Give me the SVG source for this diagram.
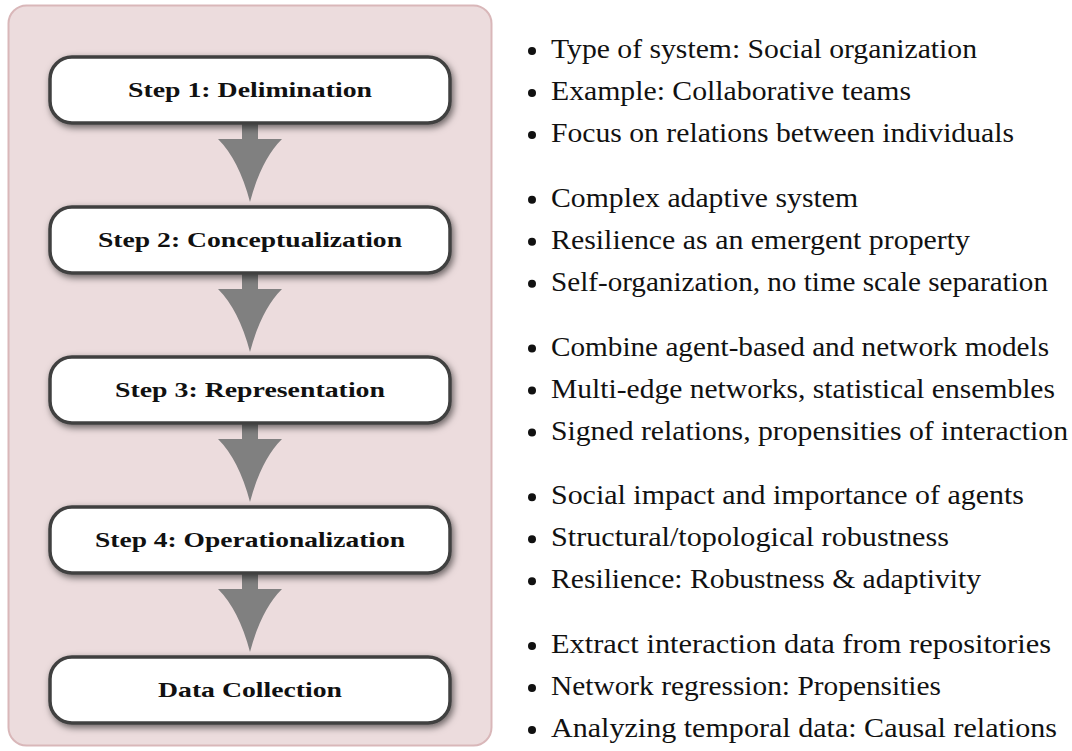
<svg xmlns="http://www.w3.org/2000/svg" width="1072" height="751" viewBox="0 0 1072 751">
<defs>
<filter id="sh" x="-10%" y="-30%" width="125%" height="170%">
<feDropShadow dx="2" dy="3" stdDeviation="3.5" flood-color="#000" flood-opacity="0.55"/>
</filter>
<path id="arr" d="M242,118 H258 V139 H282 Q261,160 250,202 Q239,160 218,139 H242 Z"/>
</defs>
<style>
.node rect{fill:#fff;stroke:#404040;stroke-width:3.5}
.lbl{font-family:"Liberation Serif","Times New Roman",serif;font-weight:bold;font-size:22px;fill:#111;text-anchor:middle}
.it{font-family:"Liberation Serif","Times New Roman",serif;font-size:27px;fill:#111}
.dot{fill:#111}
.arrow{fill:#808080}
</style>
<rect x="8.5" y="5.5" width="483" height="740" rx="18" fill="#ecdcdd" stroke="#d9b7b9" stroke-width="2"/>
<g id="connectors">
<use href="#arr" class="arrow"/>
<use href="#arr" class="arrow" transform="translate(0,150)"/>
<use href="#arr" class="arrow" transform="translate(0,300)"/>
<use href="#arr" class="arrow" transform="translate(0,450)"/>
</g>
<g id="step1" class="node"><rect x="50" y="57" width="400" height="66" rx="22" filter="url(#sh)"/><text class="lbl" x="250" y="97" textLength="244" lengthAdjust="spacingAndGlyphs">Step 1: Delimination</text></g>
<g id="step2" class="node"><rect x="50" y="207" width="400" height="66" rx="22" filter="url(#sh)"/><text class="lbl" x="250" y="247" textLength="304" lengthAdjust="spacingAndGlyphs">Step 2: Conceptualization</text></g>
<g id="step3" class="node"><rect x="50" y="357" width="400" height="66" rx="22" filter="url(#sh)"/><text class="lbl" x="250" y="397" textLength="270" lengthAdjust="spacingAndGlyphs">Step 3: Representation</text></g>
<g id="step4" class="node"><rect x="50" y="507" width="400" height="66" rx="22" filter="url(#sh)"/><text class="lbl" x="250" y="547" textLength="310" lengthAdjust="spacingAndGlyphs">Step 4: Operationalization</text></g>
<g id="data" class="node"><rect x="50" y="657" width="400" height="66" rx="22" filter="url(#sh)"/><text class="lbl" x="250" y="697" textLength="184" lengthAdjust="spacingAndGlyphs">Data Collection</text></g>
<g id="notes1">
<circle class="dot" cx="532" cy="51" r="4"/><text class="it" x="551" y="58" textLength="426" lengthAdjust="spacingAndGlyphs">Type of system: Social organization</text>
<circle class="dot" cx="532" cy="93" r="4"/><text class="it" x="551" y="100" textLength="360" lengthAdjust="spacingAndGlyphs">Example: Collaborative teams</text>
<circle class="dot" cx="532" cy="135" r="4"/><text class="it" x="551" y="142" textLength="463" lengthAdjust="spacingAndGlyphs">Focus on relations between individuals</text>
</g>
<g id="notes2">
<circle class="dot" cx="532" cy="199.75" r="4"/><text class="it" x="551" y="206.75" textLength="307" lengthAdjust="spacingAndGlyphs">Complex adaptive system</text>
<circle class="dot" cx="532" cy="241.75" r="4"/><text class="it" x="551" y="248.75" textLength="419" lengthAdjust="spacingAndGlyphs">Resilience as an emergent property</text>
<circle class="dot" cx="532" cy="283.75" r="4"/><text class="it" x="551" y="290.75" textLength="497" lengthAdjust="spacingAndGlyphs">Self-organization, no time scale separation</text>
</g>
<g id="notes3">
<circle class="dot" cx="532" cy="348.5" r="4"/><text class="it" x="551" y="355.5" textLength="498" lengthAdjust="spacingAndGlyphs">Combine agent-based and network models</text>
<circle class="dot" cx="532" cy="390.5" r="4"/><text class="it" x="551" y="397.5" textLength="504" lengthAdjust="spacingAndGlyphs">Multi-edge networks, statistical ensembles</text>
<circle class="dot" cx="532" cy="432.5" r="4"/><text class="it" x="551" y="439.5" textLength="517" lengthAdjust="spacingAndGlyphs">Signed relations, propensities of interaction</text>
</g>
<g id="notes4">
<circle class="dot" cx="532" cy="497.25" r="4"/><text class="it" x="551" y="504.25" textLength="473" lengthAdjust="spacingAndGlyphs">Social impact and importance of agents</text>
<circle class="dot" cx="532" cy="539.25" r="4"/><text class="it" x="551" y="546.25" textLength="398" lengthAdjust="spacingAndGlyphs">Structural/topological robustness</text>
<circle class="dot" cx="532" cy="581.25" r="4"/><text class="it" x="551" y="588.25" textLength="430" lengthAdjust="spacingAndGlyphs">Resilience: Robustness &amp; adaptivity</text>
</g>
<g id="notes5">
<circle class="dot" cx="532" cy="646" r="4"/><text class="it" x="551" y="653" textLength="500" lengthAdjust="spacingAndGlyphs">Extract interaction data from repositories</text>
<circle class="dot" cx="532" cy="688" r="4"/><text class="it" x="551" y="695" textLength="390" lengthAdjust="spacingAndGlyphs">Network regression: Propensities</text>
<circle class="dot" cx="532" cy="730" r="4"/><text class="it" x="551" y="737" textLength="506" lengthAdjust="spacingAndGlyphs">Analyzing temporal data: Causal relations</text>
</g>
</svg>
